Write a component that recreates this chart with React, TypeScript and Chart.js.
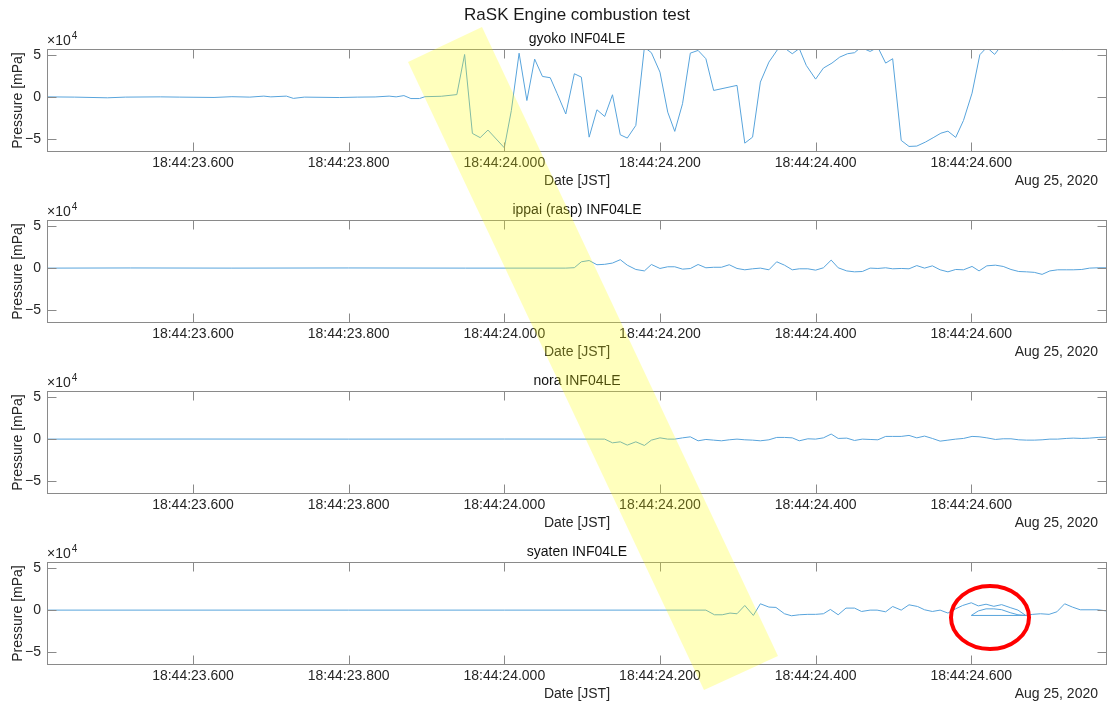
import React, { useEffect, useRef } from 'react';
import { Chart, registerables } from 'chart.js';

Chart.register(...registerables);

// ---------------- data ----------------
const mainTitle = 'RaSK Engine combustion test';
const panelTitles = ['gyoko INF04LE', 'ippai (rasp) INF04LE', 'nora INF04LE', 'syaten INF04LE'];
const xAxisTitle = 'Date [JST]';
const yAxisTitle = 'Pressure [mPa]';
const dateLabel = 'Aug 25, 2020';
// time axis: seconds after 18:44:00 (JST)
const xTickValues = [23.6, 23.8, 24.0, 24.2, 24.4, 24.6];
const xTickLabels = ['18:44:23.600', '18:44:23.800', '18:44:24.000', '18:44:24.200', '18:44:24.400', '18:44:24.600'];
const xRange = [23.4124, 24.7744];
// pressure axis in units of 1e4 mPa
const yTickValues = [-5, 0, 5];
const yTickLabels = ['\u22125', '0', '5'];
const yRange = [-6.5, 5.7];

const gyokoTime = [
  23.412, 23.448, 23.490, 23.513, 23.558, 23.583, 23.627, 23.650, 23.673, 23.691,
  23.700, 23.720, 23.729, 23.743, 23.788, 23.811, 23.834, 23.852, 23.861, 23.871,
  23.880, 23.891, 23.898, 23.919, 23.939, 23.949, 23.959, 23.969, 23.979, 24.000,
  24.009, 24.019, 24.029, 24.039, 24.049, 24.059, 24.068, 24.079, 24.090, 24.099,
  24.109, 24.119, 24.129, 24.139, 24.149, 24.158, 24.169, 24.180, 24.189, 24.200,
  24.210, 24.219, 24.229, 24.239, 24.249, 24.259, 24.269, 24.299, 24.309, 24.319,
  24.329, 24.340, 24.352, 24.361, 24.370, 24.379, 24.388, 24.400, 24.410, 24.421,
  24.431, 24.441, 24.450, 24.458, 24.470, 24.480, 24.490, 24.499, 24.510, 24.520,
  24.530, 24.541, 24.551, 24.561, 24.570, 24.580, 24.590, 24.601, 24.611, 24.620,
  24.630, 24.637, 24.650, 24.669, 24.686, 24.701, 24.717, 24.727, 24.736, 24.752,
  24.774,
];
const gyokoPressure = [
  0.03, 0.0, -0.08, 0.0, 0.03, 0.0, -0.04, 0.05, 0.0, 0.12,
  0.03, 0.12, -0.15, 0.0, -0.05, 0.0, 0.02, 0.12, 0.03, 0.18,
  -0.17, -0.17, 0.05, 0.1, 0.3, 5.05, -4.3, -4.8, -3.9, -6.0,
  -1.6, 5.2, -0.4, 4.5, 2.45, 2.3, 0.4, -2.0, 2.77, 2.37,
  -4.74, -1.5, -2.29, 0.28, -4.46, -4.85, -3.35, 5.9, 5.26, 2.96,
  -1.78, -4.06, -0.78, 5.21, 5.53, 4.55, 0.79, 1.39, -5.45, -4.74,
  1.78, 4.15, 5.75, 5.75, 5.14, 5.75, 3.76, 2.13, 3.44, 4.03,
  4.74, 5.14, 5.26, 5.9, 5.41, 5.9, 4.03, 4.55, -5.13, -5.84,
  -5.8, -5.33, -4.81, -4.27, -4.03, -4.77, -2.76, 0.47, 5.02, 5.9,
  5.06, 5.9, 6.5, 6.2, 5.62, 6.4, 5.63, 6.0, 5.62, 6.3,
  6.5,
];

const ippaiTime = [
  23.412, 23.520, 23.650, 23.800, 23.950, 24.079, 24.090, 24.099, 24.109, 24.119,
  24.129, 24.139, 24.149, 24.158, 24.169, 24.180, 24.189, 24.200, 24.210, 24.219,
  24.229, 24.239, 24.249, 24.259, 24.269, 24.279, 24.289, 24.299, 24.309, 24.319,
  24.329, 24.340, 24.350, 24.360, 24.370, 24.379, 24.390, 24.400, 24.410, 24.420,
  24.429, 24.440, 24.450, 24.460, 24.470, 24.480, 24.490, 24.499, 24.510, 24.520,
  24.530, 24.540, 24.550, 24.560, 24.570, 24.580, 24.590, 24.601, 24.610, 24.620,
  24.631, 24.641, 24.651, 24.661, 24.671, 24.681, 24.691, 24.701, 24.711, 24.722,
  24.731, 24.742, 24.752, 24.763, 24.774,
];
const ippaiPressure = [
  0.0, 0.02, 0.0, 0.02, 0.0, 0.0, 0.05, 0.75, 0.9, 0.4,
  0.45, 0.6, 1.0, 0.35, -0.16, -0.33, 0.43, -0.04, 0.16, 0.16,
  -0.12, -0.05, 0.43, 0.04, 0.1, 0.1, 0.4, -0.04, -0.2, -0.08,
  0.0, -0.2, 0.75, 0.35, -0.2, -0.08, -0.08, -0.24, 0.04, 0.95,
  0.04, -0.33, -0.44, -0.4, 0.0, -0.04, 0.04, -0.08, -0.04, -0.08,
  0.3, 0.0, 0.27, -0.2, -0.44, -0.16, -0.2, 0.2, -0.33, 0.27,
  0.35, 0.2, -0.16, -0.4, -0.44, -0.5, -0.74, -0.33, -0.2, -0.2,
  -0.2, -0.16, 0.0, 0.04, 0.04,
];

const noraTime = [
  23.412, 23.600, 23.800, 24.000, 24.129, 24.139, 24.149, 24.158, 24.169, 24.180,
  24.189, 24.200, 24.210, 24.219, 24.229, 24.239, 24.249, 24.259, 24.269, 24.279,
  24.289, 24.299, 24.309, 24.319, 24.329, 24.340, 24.350, 24.360, 24.370, 24.379,
  24.390, 24.400, 24.410, 24.420, 24.429, 24.440, 24.450, 24.460, 24.470, 24.480,
  24.490, 24.499, 24.510, 24.520, 24.530, 24.540, 24.550, 24.560, 24.570, 24.580,
  24.590, 24.601, 24.610, 24.620, 24.631, 24.641, 24.651, 24.661, 24.671, 24.681,
  24.691, 24.701, 24.711, 24.722, 24.731, 24.742, 24.752, 24.763, 24.774,
];
const noraPressure = [
  0.0, 0.01, 0.0, 0.01, 0.0, -0.44, -0.32, -0.71, -0.32, -0.75,
  -0.12, 0.15, 0.0, 0.0, 0.15, 0.27, -0.2, -0.04, -0.12, -0.2,
  -0.08, 0.0, -0.08, -0.12, -0.2, -0.08, 0.2, 0.2, 0.15, -0.2,
  0.04, 0.0, 0.15, 0.6, 0.08, 0.12, -0.16, 0.0, -0.04, -0.08,
  0.32, 0.32, 0.32, 0.44, 0.15, 0.36, 0.08, -0.24, -0.12, 0.0,
  0.08, 0.32, 0.28, 0.15, -0.04, 0.04, 0.04, -0.08, -0.12, -0.12,
  -0.08, 0.0, 0.0, 0.08, 0.12, 0.08, 0.12, 0.2, 0.24,
];

// syaten contains a block of repeated (out-of-order) timestamps
const syatenTime = [
  23.412, 23.600, 23.800, 24.000, 24.200, 24.259,
  24.270, 24.280, 24.290, 24.299, 24.309, 24.320, 24.329, 24.340, 24.349, 24.360,
  24.369, 24.379, 24.390, 24.400, 24.410, 24.419, 24.429, 24.439, 24.450, 24.459,
  24.470, 24.479, 24.490, 24.499, 24.510, 24.520, 24.531, 24.540, 24.550, 24.560,
  24.570, 24.580, 24.589, 24.600,
  24.609, 24.619, 24.629, 24.639, 24.650, 24.660, 24.670,
  24.600, 24.609, 24.619, 24.629, 24.639, 24.650, 24.660, 24.670,
  24.679, 24.689, 24.700, 24.710, 24.720, 24.730, 24.740, 24.763, 24.774,
];
const syatenPressure = [
  0.0, 0.0, 0.0, 0.0, 0.0, 0.0,
  -0.55, -0.55, -0.35, -0.43, 0.55, -0.63, 0.75, 0.36, 0.32, -0.43,
  -0.67, -0.55, -0.5, -0.5, -0.43, 0.08, -0.55, 0.24, 0.24, -0.16,
  0.0, 0.0, -0.2, 0.43, 0.0, 0.63, 0.43, 0.04, -0.16, 0.0,
  -0.35, 0.16, 0.55, 0.87,
  0.5, 0.7, 0.45, 0.65, 0.3, 0.0, -0.63,
  -0.63, -0.1, 0.15, 0.15, 0.05, -0.3, -0.55, -0.63,
  -0.5, -0.43, -0.5, -0.2, 0.75, 0.36, 0.04, 0.04, -0.1,
];

const seriesTimes = [gyokoTime, ippaiTime, noraTime, syatenTime];
const seriesValues = [gyokoPressure, ippaiPressure, noraPressure, syatenPressure];

// ---------------- styling ----------------
const FONT = '"Liberation Sans", Arial, Helvetica, sans-serif';
const TEXT = '#262626';
const BOX = '#8a8a8a';
const LINE = '#58a4dc';
const W = 1109;
const H = 704;
const PANEL_STEP = 171;
const PANEL_H = 190;
const TICK_LEN = 9.5;

const matlabAxes = {
  id: 'matlabAxes',
  afterDraw(chart: any) {
    const { ctx, chartArea } = chart;
    const { left, right, top, bottom } = chartArea;
    const xs = chart.scales.x;
    const ys = chart.scales.y;
    ctx.save();
    ctx.strokeStyle = BOX;
    ctx.lineWidth = 1;
    ctx.strokeRect(Math.round(left) + 0.5, Math.round(top) + 0.5, Math.round(right - left) - 1, Math.round(bottom - top) - 1);
    ctx.beginPath();
    for (const v of xTickValues) {
      const px = Math.round(xs.getPixelForValue(v)) + 0.5;
      ctx.moveTo(px, bottom);
      ctx.lineTo(px, bottom - TICK_LEN);
      ctx.moveTo(px, top);
      ctx.lineTo(px, top + TICK_LEN);
    }
    for (const v of yTickValues) {
      const py = Math.round(ys.getPixelForValue(v)) + 0.5;
      ctx.moveTo(left, py);
      ctx.lineTo(left + TICK_LEN, py);
      ctx.moveTo(right, py);
      ctx.lineTo(right - TICK_LEN, py);
    }
    ctx.stroke();
    // exponent label
    ctx.fillStyle = TEXT;
    ctx.textBaseline = 'middle';
    ctx.textAlign = 'left';
    ctx.font = `14px ${FONT}`;
    ctx.fillText('\u00d710', left, top - 7.5);
    const w = ctx.measureText('\u00d710').width;
    ctx.font = `10px ${FONT}`;
    ctx.fillText('4', left + w + 1, top - 13);
    // date label
    ctx.font = `14px ${FONT}`;
    ctx.textAlign = 'right';
    ctx.fillText(dateLabel, right - 9, chart.height - 9);
    ctx.restore();
  },
};

function Panel({ index }: { index: number }) {
  const ref = useRef<HTMLCanvasElement | null>(null);
  useEffect(() => {
    const canvas = ref.current;
    if (!canvas) return;
    const times = seriesTimes[index];
    const values = seriesValues[index];
    const n = Math.min(times.length, values.length);
    const points = [] as { x: number; y: number }[];
    for (let k = 0; k < n; k++) points.push({ x: times[k], y: values[k] });
    const font14 = { family: FONT, size: 14, weight: 'normal' as const, lineHeight: 1 };
    const chart = new Chart(canvas, {
      type: 'line',
      data: {
        datasets: [
          {
            data: points,
            borderColor: LINE,
            borderWidth: 1,
            pointRadius: 0,
            pointHoverRadius: 0,
            tension: 0,
            fill: false,
          },
        ],
      },
      options: {
        animation: false,
        responsive: false,
        maintainAspectRatio: false,
        events: [],
        layout: { padding: { left: 0, right: 2, top: 0, bottom: 0 } },
        plugins: {
          legend: { display: false },
          tooltip: { enabled: false },
          title: {
            display: index === 0,
            text: mainTitle,
            color: '#1a1a1a',
            fullSize: false,
            font: { family: FONT, size: 17, weight: 'normal', lineHeight: 1 },
            padding: { top: 6.5, bottom: 0 },
          },
          subtitle: {
            display: true,
            text: panelTitles[index],
            color: '#111111',
            fullSize: false,
            font: font14,
            padding: index === 0 ? { top: 9, bottom: 2.5 } : { top: 32.5, bottom: 2.5 },
          },
        },
        scales: {
          x: {
            type: 'linear',
            min: xRange[0],
            max: xRange[1],
            grid: { display: false, drawTicks: false, tickLength: 0 },
            border: { display: false },
            ticks: {
              padding: 4.5,
              color: TEXT,
              font: font14,
              maxRotation: 0,
              autoSkip: false,
              callback: (_v: any, i: number) => xTickLabels[i],
            },
            afterBuildTicks: (s: any) => {
              s.ticks = xTickValues.map((v) => ({ value: v }));
            },
            afterFit: (s: any) => {
              s.height = 38;
            },
            title: { display: true, text: xAxisTitle, color: TEXT, font: font14, padding: { top: 0, bottom: 2 } },
          },
          y: {
            type: 'linear',
            min: yRange[0],
            max: yRange[1],
            grid: { display: false, drawTicks: false, tickLength: 0 },
            border: { display: false },
            ticks: {
              padding: 6,
              color: TEXT,
              font: font14,
              autoSkip: false,
              callback: (_v: any, i: number) => yTickLabels[i],
            },
            afterBuildTicks: (s: any) => {
              s.ticks = yTickValues.map((v) => ({ value: v }));
            },
            afterFit: (s: any) => {
              s.width = 47;
            },
            title: { display: true, text: yAxisTitle, color: TEXT, font: font14, padding: { top: 11, bottom: 0 } },
          },
        },
      } as any,
      plugins: [matlabAxes],
    });
    return () => chart.destroy();
  }, [index]);
  return (
    <canvas
      ref={ref}
      width={W}
      height={PANEL_H}
      style={{ position: 'absolute', left: 0, top: PANEL_STEP * index, width: W, height: PANEL_H }}
    />
  );
}

// annotation overlay (highlight band and circle), in page pixels
const bandPoints = '408,62 482,27 778,656 704,690';

export default function App() {
  useEffect(() => {
    document.body.style.margin = '0';
  }, []);
  return (
    <div style={{ position: 'absolute', left: 0, top: 0, width: W, height: H, overflow: 'hidden', background: '#ffffff' }}>
      {[0, 1, 2, 3].map((i) => (
        <Panel key={i} index={i} />
      ))}
      <svg width={W} height={H} style={{ position: 'absolute', left: 0, top: 0, pointerEvents: 'none' }}>
        <polygon points={bandPoints} fill="rgba(255,255,0,0.26)" />
        <ellipse cx={990} cy={617.5} rx={39} ry={31.5} fill="none" stroke="#ff0000" strokeWidth={4} />
      </svg>
    </div>
  );
}
